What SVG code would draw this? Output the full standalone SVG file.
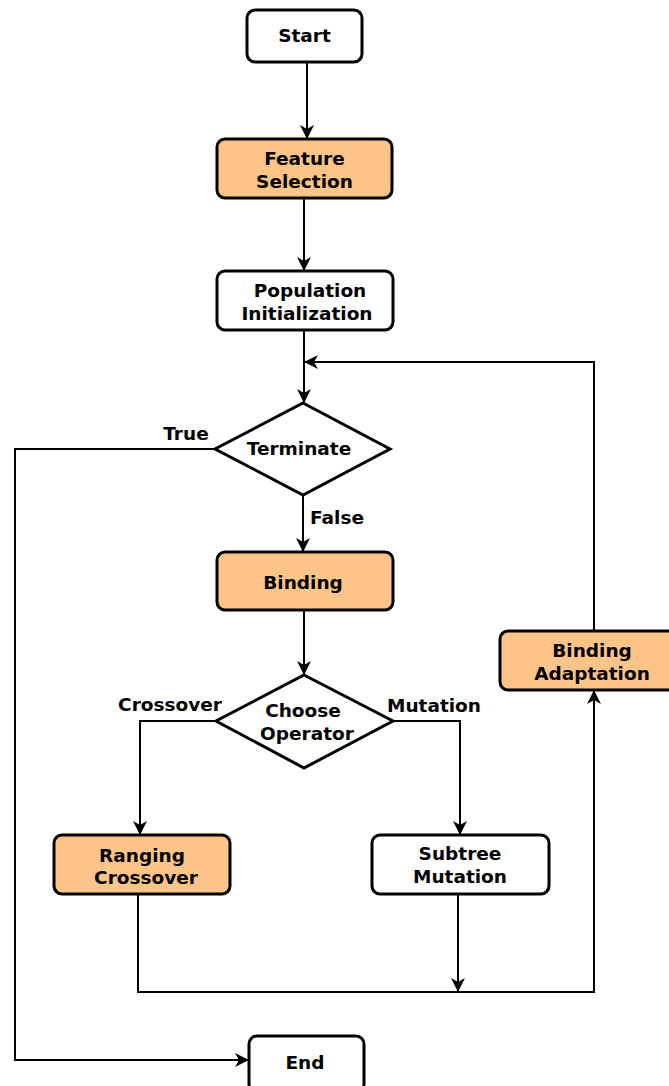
<svg xmlns="http://www.w3.org/2000/svg" width="669" height="1086" viewBox="0 0 669 1086">
  <style>
    .box { stroke: #000; stroke-width: 3; }
    .plain { fill: #fff; }
    .hl { fill: #FFC588; }
    .lbl { font-family: "DejaVu Sans", Verdana, sans-serif; font-weight: bold; font-size: 18.5px; fill: #000; text-anchor: middle; }
    .edge { fill: none; stroke: #000; stroke-width: 2; }
  </style>
  <defs>
    <marker id="arrow" viewBox="0 0 14 14" refX="13" refY="7" markerWidth="14" markerHeight="14" markerUnits="userSpaceOnUse" orient="auto">
      <path d="M0,0 L14,7 L0,14 L4,7 Z" fill="#000"/>
    </marker>
  </defs>
  <rect width="669" height="1086" fill="#fff"/>

  <g id="connectors">
    <path class="edge" d="M307,62 V138" marker-end="url(#arrow)"/>
    <path class="edge" d="M304,198 V270" marker-end="url(#arrow)"/>
    <path class="edge" d="M304,330 V402" marker-end="url(#arrow)"/>
    <path class="edge" d="M594,631 V362 H305" marker-end="url(#arrow)"/>
    <path class="edge" d="M215,449 H15 V1060 H248" marker-end="url(#arrow)"/>
    <path class="edge" d="M303,495 V551" marker-end="url(#arrow)"/>
    <path class="edge" d="M304,610 V674" marker-end="url(#arrow)"/>
    <path class="edge" d="M216,721 H140 V834" marker-end="url(#arrow)"/>
    <path class="edge" d="M393,721 H460 V834" marker-end="url(#arrow)"/>
    <path class="edge" d="M138,894 V992 H594 V691" marker-end="url(#arrow)"/>
    <path class="edge" d="M458,894 V991" marker-end="url(#arrow)"/>
    <text class="lbl" x="186" y="440">True</text>
    <text class="lbl" x="337" y="524">False</text>
    <text class="lbl" x="170" y="711">Crossover</text>
    <text class="lbl" x="434" y="712">Mutation</text>
  </g>

  <g id="start">
    <rect class="box plain" x="247" y="10" width="115" height="52" rx="8"/>
    <text class="lbl" x="304.5" y="42">Start</text>
  </g>
  <g id="feature-selection">
    <rect class="box hl" x="217" y="139" width="175" height="59" rx="8"/>
    <text class="lbl" x="304.5" y="165">Feature</text>
    <text class="lbl" x="304.5" y="188">Selection</text>
  </g>
  <g id="population-initialization">
    <rect class="box plain" x="217" y="271" width="176" height="59" rx="8"/>
    <text class="lbl" x="310" y="297">Population</text>
    <text class="lbl" x="307" y="320">Initialization</text>
  </g>
  <g id="terminate">
    <polygon class="box plain" points="303,403 390,449 303,495 215,449"/>
    <text class="lbl" x="299" y="455">Terminate</text>
  </g>
  <g id="binding">
    <rect class="box hl" x="217" y="552" width="176" height="58" rx="8"/>
    <text class="lbl" x="303" y="589">Binding</text>
  </g>
  <g id="choose-operator">
    <polygon class="box plain" points="304,675 393,721 304,768 216,721"/>
    <text class="lbl" x="303" y="717">Choose</text>
    <text class="lbl" x="307" y="740">Operator</text>
  </g>
  <g id="binding-adaptation">
    <rect class="box hl" x="500" y="631" width="176" height="59" rx="8"/>
    <text class="lbl" x="592" y="657">Binding</text>
    <text class="lbl" x="592" y="680">Adaptation</text>
  </g>
  <g id="ranging-crossover">
    <rect class="box hl" x="54" y="835" width="176" height="59" rx="8"/>
    <text class="lbl" x="142" y="862">Ranging</text>
    <text class="lbl" x="146" y="884">Crossover</text>
  </g>
  <g id="subtree-mutation">
    <rect class="box plain" x="372" y="835" width="177" height="59" rx="8"/>
    <text class="lbl" x="460" y="860">Subtree</text>
    <text class="lbl" x="460" y="883">Mutation</text>
  </g>
  <g id="end">
    <rect class="box plain" x="249" y="1036" width="115" height="56" rx="8"/>
    <text class="lbl" x="305" y="1069">End</text>
  </g>
</svg>
